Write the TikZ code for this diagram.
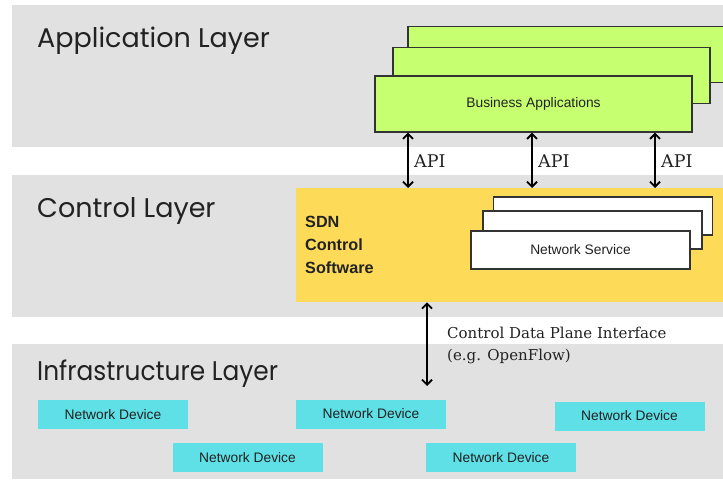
\documentclass[tikz,border=0pt]{standalone}
\usepackage{fontspec}
\setmainfont{Liberation Sans}
\newfontfamily\titlefont{Poppins}
\newfontfamily\notefont{DejaVu Serif}
\usetikzlibrary{arrows.meta}
\definecolor{band}{HTML}{E1E1E1}
\definecolor{appgreen}{HTML}{C6FF70}
\definecolor{sdnyellow}{HTML}{FDDA58}
\definecolor{devcyan}{HTML}{5EE0E6}
\definecolor{edge}{HTML}{333333}
\definecolor{ink}{HTML}{222222}

\begin{document}
\begin{tikzpicture}[x=1pt,y=-1pt,
  layerband/.style={fill=band, draw=none, inner sep=0pt, anchor=north west},
  layertitle/.style={anchor=base west, inner sep=0pt, text=ink,
    font=\titlefont\fontsize{27}{30}\selectfont},
  stackbox/.style={draw=edge, line width=1.4pt, inner sep=0pt,
    minimum width=#1, text=ink, font=\fontsize{13.8}{15}\selectfont},
  appbox/.style={stackbox=317pt, fill=appgreen, minimum height=56pt},
  svcbox/.style={stackbox=219pt, fill=white, minimum height=38pt},
  devbox/.style={fill=devcyan, minimum width=150pt, minimum height=29pt,
    inner sep=0pt, text=ink, font=\fontsize{13.8}{15}\selectfont},
  link/.style={line width=1.8pt,
    {Straight Barb[length=5pt,width=10pt]}-{Straight Barb[length=5pt,width=10pt]}},
  note/.style={anchor=base west, inner sep=0pt, text=ink,
    font=\notefont\fontsize{#1}{18}\selectfont},
]
\useasboundingbox (0,0) rectangle (723,481);
\clip (0,0) rectangle (723,481);

% layer bands
\node[layerband, minimum width=720pt, minimum height=142pt] (appband)   at (12,5) {};
\node[layerband, minimum width=720pt, minimum height=142pt] (ctrlband)  at (12,175) {};
\node[layerband, minimum width=720pt, minimum height=135pt] (infraband) at (12,344) {};

\node[layertitle] (apptitle)   at (37,48)  {Application Layer};
\node[layertitle] (ctrltitle)  at (37,218) {Control Layer};
\node[layertitle, xscale=0.92] (infratitle) at (37,380) {Infrastructure Layer};

% stacked business applications
\node[appbox] (biz3) at (566.5,54.5) {};
\node[appbox] (biz2) at (551.5,75.5) {};
\node[appbox] (biz)  at (533.5,104)  {Business Applications};

% SDN controller with stacked network services
\node[fill=sdnyellow, inner sep=0pt, minimum width=440pt, minimum height=114pt,
      anchor=north west] (sdn) at (296,188) {};
\node[anchor=north west, inner sep=0pt, align=left, text=ink,
      font=\bfseries\fontsize{16.2}{23}\selectfont] (sdntext) at (305,216)
      {SDN\\Control\\Software};
\node[svcbox] (svc3) at (603,216)   {};
\node[svcbox] (svc2) at (592.5,230) {};
\node[svcbox] (svc)  at (580.5,250) {Network Service};

% northbound API links
\coordinate (apiA) at (408,0);
\coordinate (apiB) at (532,0);
\coordinate (apiC) at (655,0);
\draw[link] (biz.south -| apiA) -- (sdn.north -| apiA);
\draw[link] (biz.south -| apiB) -- (sdn.north -| apiB);
\draw[link] (biz.south -| apiC) -- (sdn.north -| apiC);
\node[note=17.5] (apilabelA) at (414,168) {API};
\node[note=17.5] (apilabelB) at (538,168) {API};
\node[note=17.5] (apilabelC) at (661,168) {API};

% southbound interface
\coordinate (cdpi) at (427,386);
\coordinate (cdpix) at (427,0);
\draw[link] (sdn.south -| cdpix) -- (cdpi);
\node[note=15] (cdpilabel) at (447,338) {Control Data Plane Interface};
\node[note=15] (cdpiex) at (447,360) {(e.g. OpenFlow)};

% network devices
\node[devbox] (dev1) at (113,414.5) {Network Device};
\node[devbox] (dev2) at (247.5,457.5) {Network Device};
\node[devbox] (dev3) at (371,414) {Network Device};
\node[devbox] (dev4) at (501,457.5) {Network Device};
\node[devbox] (dev5) at (629.5,416) {Network Device};
\end{tikzpicture}
\end{document}
